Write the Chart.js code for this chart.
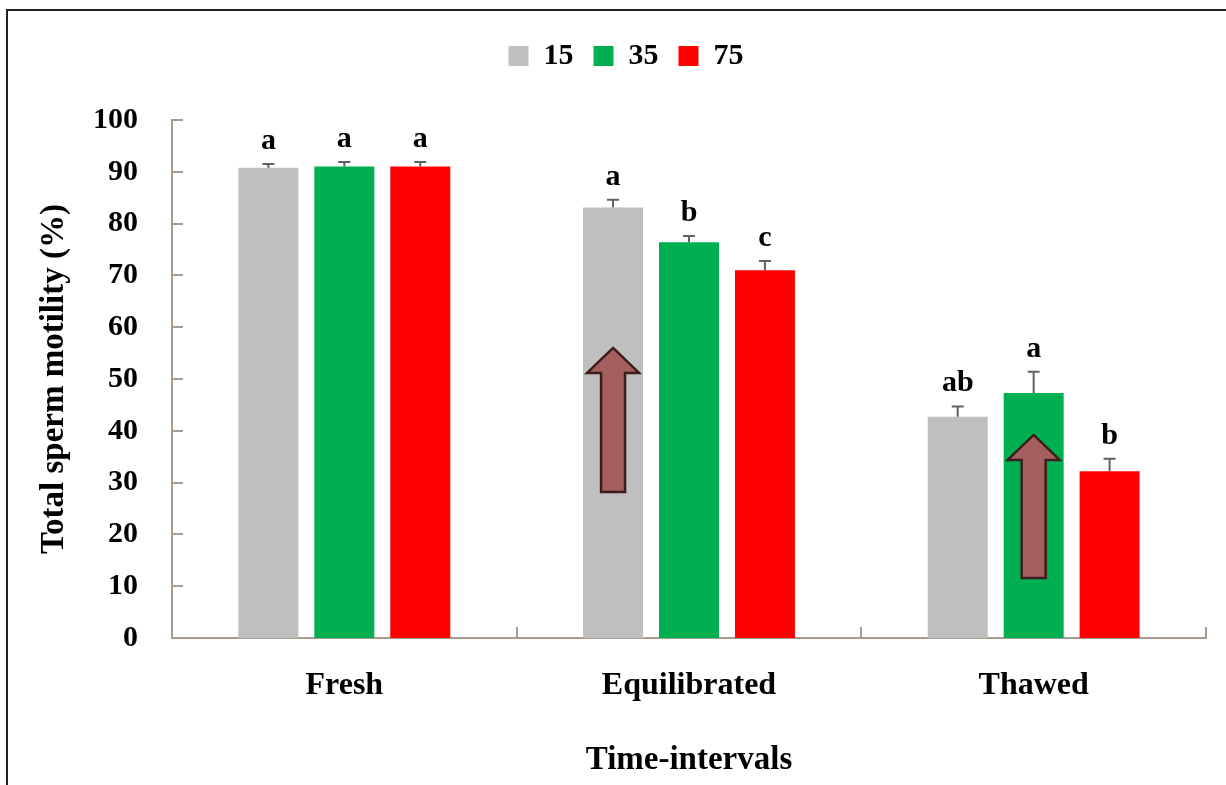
<!DOCTYPE html>
<html>
<head>
<meta charset="utf-8">
<script src="https://cdn.jsdelivr.net/npm/chart.js@4/dist/chart.umd.min.js"></script>
<style>
  body { margin: 0; background: #fff; }
  #wrap { position: relative; width: 1226px; height: 785px; overflow: hidden; }
  #frame { position: absolute; left: 6px; top: 9px; width: 1240px; height: 800px; border: 2px solid #222; }
  #chart { position: absolute; left: 0; top: 0; }
</style>
</head>
<body>
<div id="wrap">
  <div id="frame"></div>
  <canvas id="chart" width="1226" height="785"></canvas>
</div>
<script>
const categories = ["Fresh", "Equilibrated", "Thawed"];
const seriesNames = ["15", "35", "75"];
const values15 = [90.8, 83.1, 42.7];
const values35 = [91.0, 76.4, 47.3];
const values75 = [91.0, 71.0, 32.2];
const errors15 = [0.7, 1.5, 2.0];
const errors35 = [0.9, 1.2, 4.1];
const errors75 = [0.9, 1.8, 2.4];
const letters15 = ["a", "a", "ab"];
const letters35 = ["a", "b", "a"];
const letters75 = ["a", "c", "b"];
const yTicks = [0, 10, 20, 30, 40, 50, 60, 70, 80, 90, 100];

// arrows drawn on top of bars: which bar, from/to value
const arrowCategory = [1, 2];
const arrowSeries = [0, 1];
const arrowFrom = [28.2, 11.6];
const arrowTo = [56.0, 39.2];

const serif = "'Liberation Serif', 'Times New Roman', serif";
const axisColor = "#a89b90";
const errors = [errors15, errors35, errors75];
const letters = [letters15, letters35, letters75];

// legend sits in a tall box above the plot
const legendHeight = {
  id: "legendHeight",
  beforeInit(chart) {
    const fit = chart.legend.fit;
    chart.legend.fit = function () {
      fit.bind(chart.legend)();
      this.height = 99;
    };
  }
};

const extras = {
  id: "extras",
  afterDatasetsDraw(chart) {
    const ctx = chart.ctx;
    const x = chart.scales.x, y = chart.scales.y;
    const area = chart.chartArea;
    ctx.save();

    // inside tick marks
    ctx.strokeStyle = axisColor;
    ctx.lineWidth = 2;
    yTicks.forEach(t => {
      const py = Math.round(y.getPixelForValue(t));
      ctx.beginPath();
      ctx.moveTo(area.left, py);
      ctx.lineTo(area.left + 11, py);
      ctx.stroke();
    });
    const step = (area.right - area.left) / categories.length;
    for (let i = 1; i <= categories.length; i++) {
      const px = Math.round(area.left + step * i);
      ctx.beginPath();
      ctx.moveTo(px, area.bottom);
      ctx.lineTo(px, area.bottom - 11);
      ctx.stroke();
    }

    // error bars and letters
    chart.data.datasets.forEach((ds, i) => {
      const meta = chart.getDatasetMeta(i);
      meta.data.forEach((bar, j) => {
        const top = y.getPixelForValue(ds.data[j]);
        const cap = y.getPixelForValue(ds.data[j] + errors[i][j]);
        ctx.strokeStyle = "#606060";
        ctx.lineWidth = 2;
        ctx.beginPath();
        ctx.moveTo(bar.x, top);
        ctx.lineTo(bar.x, cap);
        ctx.moveTo(bar.x - 6, cap);
        ctx.lineTo(bar.x + 6, cap);
        ctx.stroke();

        ctx.fillStyle = "#000";
        ctx.font = "bold 30px " + serif;
        ctx.textAlign = "center";
        ctx.textBaseline = "alphabetic";
        ctx.fillText(letters[i][j], bar.x, cap - 15);
      });
    });

    // arrows
    arrowCategory.forEach((c, k) => {
      const bar = chart.getDatasetMeta(arrowSeries[k]).data[c];
      const cx = bar.x;
      const yb = y.getPixelForValue(arrowFrom[k]);
      const yt = y.getPixelForValue(arrowTo[k]);
      const hw = 26, sw = 12, hh = 25;
      ctx.beginPath();
      ctx.moveTo(cx, yt);
      ctx.lineTo(cx + hw, yt + hh);
      ctx.lineTo(cx + sw, yt + hh);
      ctx.lineTo(cx + sw, yb);
      ctx.lineTo(cx - sw, yb);
      ctx.lineTo(cx - sw, yt + hh);
      ctx.lineTo(cx - hw, yt + hh);
      ctx.closePath();
      ctx.fillStyle = "#a65f5f";
      ctx.fill();
      ctx.strokeStyle = "#3d1c1c";
      ctx.lineWidth = 2.5;
      ctx.lineJoin = "miter";
      ctx.stroke();
    });

    ctx.restore();
  }
};

new Chart(document.getElementById("chart"), {
  type: "bar",
  data: {
    labels: categories,
    datasets: [
      { label: seriesNames[0], data: values15, backgroundColor: "#bfbfbf" },
      { label: seriesNames[1], data: values35, backgroundColor: "#00b050" },
      { label: seriesNames[2], data: values75, backgroundColor: "#ff0000" }
    ]
  },
  options: {
    responsive: false,
    animation: false,
    layout: { padding: { left: 46, right: 20, top: 21, bottom: 0 } },
    datasets: { bar: { categoryPercentage: 0.661, barPercentage: 0.79 } },
    plugins: {
      tooltip: { enabled: false },
      legend: {
        position: "top",
        labels: {
          boxWidth: 20,
          boxHeight: 20,
          padding: 20,
          color: "#000",
          font: { family: serif, size: 30, weight: "bold" }
        }
      }
    },
    scales: {
      x: {
        grid: { display: false, drawTicks: false },
        border: { color: axisColor, width: 2 },
        ticks: { color: "#000", padding: 29, font: { family: serif, size: 32, weight: "bold" } },
        title: {
          display: true,
          text: "Time-intervals",
          color: "#000",
          font: { family: serif, size: 33, weight: "bold" },
          padding: { top: 0, bottom: 5 }
        },
        afterFit(scale) { scale.height = 147; }
      },
      y: {
        min: 0,
        max: 100,
        grid: { display: false, drawTicks: false },
        border: { color: axisColor, width: 2 },
        ticks: { stepSize: 10, color: "#000", padding: 34, font: { family: serif, size: 30, weight: "bold" } },
        title: {
          display: true,
          text: "Total sperm motility (%)",
          color: "#000",
          font: { family: serif, size: 33, weight: "bold" },
          padding: { top: -11, bottom: 0 }
        },
        afterFit(scale) { scale.width = 126; }
      }
    }
  },
  plugins: [legendHeight, extras]
});
</script>
</body>
</html>
